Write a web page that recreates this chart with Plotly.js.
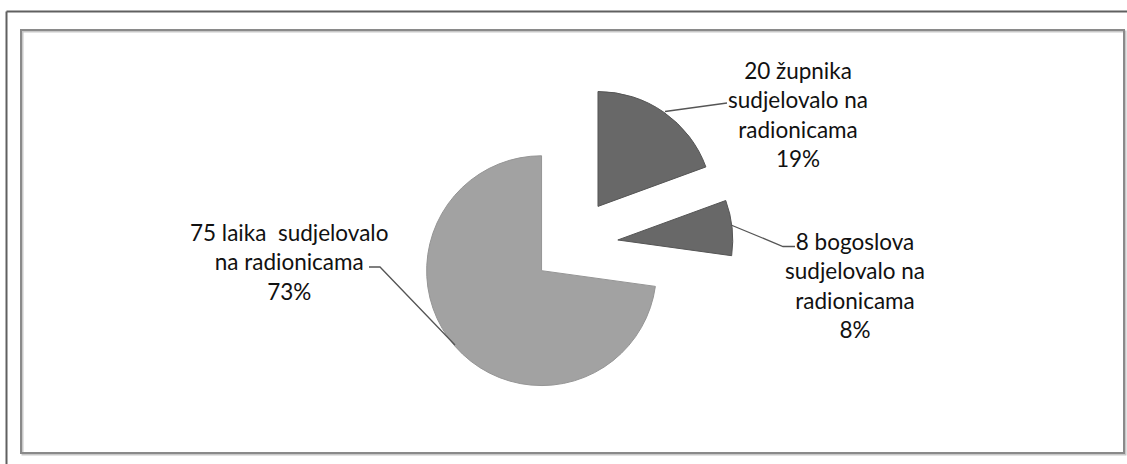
<!DOCTYPE html>
<html>
<head>
<meta charset="utf-8">
<script src="https://cdn.plot.ly/plotly-3.0.1.min.js"></script>
<style>html,body{margin:0;padding:0;background:#fff;}#chart{width:1127px;height:464px;}</style>
</head>
<body>
<div id="chart"></div>
<script>
// Data
var categories = ["20 župnika sudjelovalo na radionicama", "8 bogoslova sudjelovalo na radionicama", "75 laika  sudjelovalo na radionicama"];
var counts = [20, 8, 75];
var percentLabels = ["19%", "8%", "73%"];
var labelTexts = [
  "20 župnika<br>sudjelovalo na<br>radionicama<br>19%",
  "8 bogoslova<br>sudjelovalo na<br>radionicama<br>8%",
  "75 laika  sudjelovalo<br>na radionicama<br>73%"
];

var W = 1127, H = 464;
function px(x){ return x / W; }
function py(y){ return 1 - y / H; }

var trace = {
  type: "pie",
  values: counts,
  labels: categories,
  sort: false,
  direction: "clockwise",
  rotation: 0,
  pull: [0.41, 0.41, 0.34],
  marker: {
    colors: ["#686868", "#686868", "#a2a2a2"],
    line: {color: ["#555555", "#555555", "#959595"], width: 1}
  },
  textinfo: "none",
  hoverinfo: "none",
  showlegend: false,
  domain: {x: [px(371), px(771)], y: [py(407), py(83)]}
};

var font = {family: "Lato, 'Open Sans', sans-serif", size: 22.5, color: "#111"};
var labelPos = [[798, 115], [855, 285], [289, 262]];
var annotations = labelTexts.map(function(t, i){
  return {xref: "paper", yref: "paper", x: px(labelPos[i][0]), y: py(labelPos[i][1]),
    xanchor: "center", yanchor: "middle", text: t, showarrow: false, font: font, align: "center"};
});

function pathPx(pts){
  return pts.map(function(p, i){ return (i ? "L" : "M") + px(p[0]) + "," + py(p[1]); }).join(" ");
}

var shapes = [
  // outer frame
  {type: "line", xref: "paper", yref: "paper", x0: px(6.5), x1: px(1140), y0: py(11.5), y1: py(11.5), line: {color: "#606060", width: 2}},
  {type: "line", xref: "paper", yref: "paper", x0: px(6.5), x1: px(6.5), y0: py(11.5), y1: py(480), line: {color: "#606060", width: 2}},
  // inner box shadow + border
  {type: "rect", xref: "paper", yref: "paper", x0: px(22.5), x1: px(1125.5), y0: py(31.5), y1: py(454.5), line: {color: "#c8c8c8", width: 2}},
  {type: "rect", xref: "paper", yref: "paper", x0: px(21), x1: px(1124), y0: py(30), y1: py(453), line: {color: "#8a8a8a", width: 2}},
  // leader lines
  {type: "path", xref: "paper", yref: "paper", path: pathPx([[727, 103], [665, 111.5]]), line: {color: "#555", width: 1.3}},
  {type: "path", xref: "paper", yref: "paper", path: pathPx([[731, 225], [783, 246.5], [795, 246.5]]), line: {color: "#555", width: 1.3}},
  {type: "path", xref: "paper", yref: "paper", path: pathPx([[369, 267], [380, 267], [455, 345]]), line: {color: "#555", width: 1.3}}
];

var layout = {
  width: W, height: H,
  margin: {l: 0, r: 0, t: 0, b: 0},
  paper_bgcolor: "#ffffff",
  plot_bgcolor: "#ffffff",
  showlegend: false,
  annotations: annotations,
  shapes: shapes
};

Plotly.newPlot("chart", [trace], layout, {displayModeBar: false, staticPlot: true});
</script>
</body>
</html>
